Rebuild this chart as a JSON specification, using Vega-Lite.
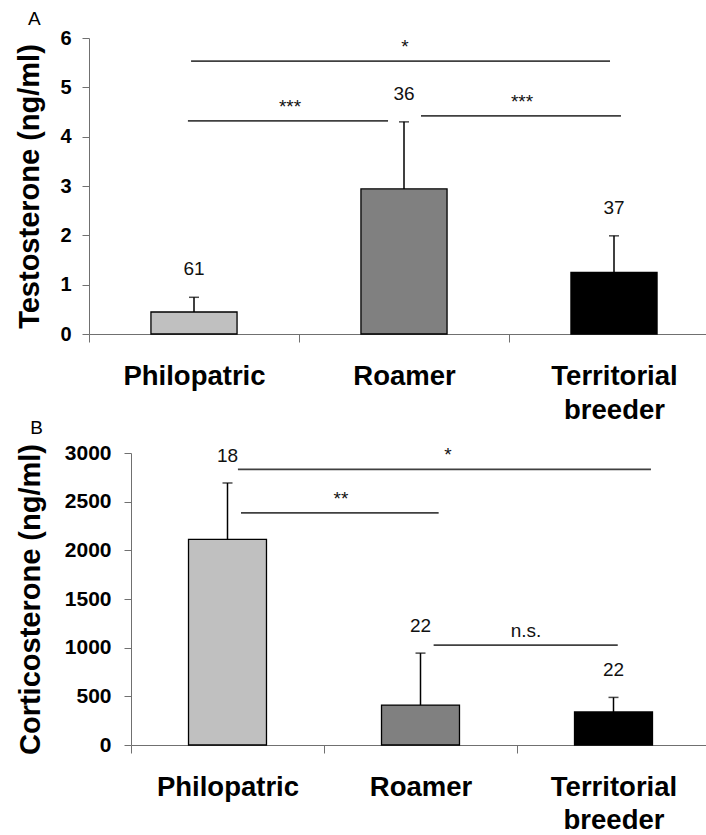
{
  "$schema": "https://vega.github.io/schema/vega-lite/v6.json",
  "background": "white",
  "padding": {"left": 15, "top": 10, "right": 0, "bottom": 0},
  "config": {
    "font": "Liberation Sans",
    "view": {"stroke": null},
    "axis": {"domainColor": "#707070", "tickColor": "#707070", "grid": false, "labelColor": "black", "titleColor": "black"}
  },
  "datasets": {
    "barsA": [
      {"group": "Philopatric", "mean": 0.446, "upper": 0.744, "n": "61"},
      {"group": "Roamer", "mean": 2.94, "upper": 4.30, "n": "36"},
      {"group": "Territorial breeder", "mean": 1.25, "upper": 1.99, "n": "37"}
    ],
    "sigsA": [
      {"id": "all", "from": "Philopatric", "to": "Territorial breeder", "level": 5.53, "label": "*"},
      {"id": "pr", "from": "Philopatric", "to": "Roamer", "level": 4.32, "label": "***"},
      {"id": "rt", "from": "Roamer", "to": "Territorial breeder", "level": 4.42, "label": "***"}
    ],
    "barsB": [
      {"group": "Philopatric", "mean": 2113, "upper": 2692, "n": "18"},
      {"group": "Roamer", "mean": 410, "upper": 944, "n": "22"},
      {"group": "Territorial breeder", "mean": 339, "upper": 489, "n": "22"}
    ],
    "sigsB": [
      {"id": "all", "from": "Philopatric", "to": "Territorial breeder", "level": 2832, "label": "*"},
      {"id": "pr", "from": "Philopatric", "to": "Roamer", "level": 2384, "label": "**"},
      {"id": "rt", "from": "Roamer", "to": "Territorial breeder", "level": 1026, "label": "n.s."}
    ]
  },
  "spacing": -5,
  "vconcat": [
    {
      "title": {"text": "A", "anchor": "start", "frame": "bounds", "fontSize": 19, "fontWeight": "normal", "dx": 12, "offset": -1, "color": "black"},
      "width": 588,
      "height": 296,
      "layer": [
        {
          "data": {"name": "barsA"},
          "mark": {"type": "bar", "width": {"band": 0.41}, "stroke": "black", "strokeWidth": 1.3},
          "encoding": {
            "x": {"field": "group", "type": "nominal", "scale": {"domain": ["Philopatric", "Roamer", "Territorial breeder"], "paddingInner": 0, "paddingOuter": 0, "range": [-42, 588]},
              "axis": {"title": null, "labelAngle": 0, "labelFontSize": 27.5, "labelFontWeight": "bold", "labelPadding": 20, "labelLineHeight": 34, "tickBand": "extent", "tickSize": 8, "labelLimit": 0,
                "labelExpr": "datum.value == 'Territorial breeder' ? ['Territorial', 'breeder'] : datum.label"}},
            "y": {"field": "mean", "type": "quantitative", "scale": {"domain": [0, 6]},
              "axis": {"title": "Testosterone (ng/ml)", "offset": 42, "values": [0, 1, 2, 3, 4, 5, 6], "labelFontSize": 20, "labelFontWeight": "bold", "labelPadding": 11, "tickSize": 7, "titleFontSize": 29, "titleFontWeight": "bold", "titlePadding": 15}},
            "color": {"field": "group", "type": "nominal", "scale": {"domain": ["Philopatric", "Roamer", "Territorial breeder"], "range": ["#c0c0c0", "#808080", "#000000"]}, "legend": null}
          }
        },
        {
          "data": {"name": "barsA"},
          "mark": {"type": "rule", "color": "black", "strokeWidth": 1.5},
          "encoding": {
            "x": {"field": "group", "type": "nominal", "scale": {"domain": ["Philopatric", "Roamer", "Territorial breeder"]}},
            "y": {"field": "mean", "type": "quantitative"},
            "y2": {"field": "upper"}
          }
        },
        {
          "data": {"name": "barsA"},
          "mark": {"type": "tick", "orient": "horizontal", "color": "black", "size": 10, "thickness": 1.5},
          "encoding": {
            "x": {"field": "group", "type": "nominal", "scale": {"domain": ["Philopatric", "Roamer", "Territorial breeder"]}},
            "y": {"field": "upper", "type": "quantitative"}
          }
        },
        {
          "data": {"name": "barsA"},
          "mark": {"type": "text", "fontSize": 19, "color": "#111", "baseline": "alphabetic", "dy": -22},
          "encoding": {
            "x": {"field": "group", "type": "nominal", "scale": {"domain": ["Philopatric", "Roamer", "Territorial breeder"]}},
            "y": {"field": "upper", "type": "quantitative"},
            "text": {"field": "n"}
          }
        },
        {
          "data": {"name": "sigsA"},
          "transform": [{"filter": "datum.id == 'all'"}],
          "mark": {"type": "rule", "color": "#404040", "strokeWidth": 1.8},
          "encoding": {
            "x": {"field": "from", "type": "nominal", "bandPosition": 0.486, "scale": {"domain": ["Philopatric", "Roamer", "Territorial breeder"]}},
            "x2": {"field": "to", "bandPosition": 0.481},
            "y": {"field": "level", "type": "quantitative"}
          }
        },
        {
          "data": {"name": "sigsA"},
          "transform": [{"filter": "datum.id == 'pr'"}],
          "mark": {"type": "rule", "color": "#404040", "strokeWidth": 1.8},
          "encoding": {
            "x": {"field": "from", "type": "nominal", "bandPosition": 0.471, "scale": {"domain": ["Philopatric", "Roamer", "Territorial breeder"]}},
            "x2": {"field": "to", "bandPosition": 0.424},
            "y": {"field": "level", "type": "quantitative"}
          }
        },
        {
          "data": {"name": "sigsA"},
          "transform": [{"filter": "datum.id == 'rt'"}],
          "mark": {"type": "rule", "color": "#404040", "strokeWidth": 1.8},
          "encoding": {
            "x": {"field": "from", "type": "nominal", "bandPosition": 0.581, "scale": {"domain": ["Philopatric", "Roamer", "Territorial breeder"]}},
            "x2": {"field": "to", "bandPosition": 0.533},
            "y": {"field": "level", "type": "quantitative"}
          }
        },
        {
          "data": {"name": "sigsA"},
          "transform": [{"filter": "datum.id == 'all'"}],
          "mark": {"type": "text", "fontSize": 19, "color": "#111", "baseline": "alphabetic", "dy": -8},
          "encoding": {
            "x": {"field": "from", "type": "nominal", "bandPosition": 1.505, "scale": {"domain": ["Philopatric", "Roamer", "Territorial breeder"]}},
            "y": {"field": "level", "type": "quantitative"},
            "text": {"field": "label"}
          }
        },
        {
          "data": {"name": "sigsA"},
          "transform": [{"filter": "datum.id == 'pr'"}],
          "mark": {"type": "text", "fontSize": 19, "color": "#111", "baseline": "alphabetic", "dy": -8},
          "encoding": {
            "x": {"field": "from", "type": "nominal", "bandPosition": 0.957, "scale": {"domain": ["Philopatric", "Roamer", "Territorial breeder"]}},
            "y": {"field": "level", "type": "quantitative"},
            "text": {"field": "label"}
          }
        },
        {
          "data": {"name": "sigsA"},
          "transform": [{"filter": "datum.id == 'rt'"}],
          "mark": {"type": "text", "fontSize": 19, "color": "#111", "baseline": "alphabetic", "dy": -8},
          "encoding": {
            "x": {"field": "from", "type": "nominal", "bandPosition": 1.062, "scale": {"domain": ["Philopatric", "Roamer", "Territorial breeder"]}},
            "y": {"field": "level", "type": "quantitative"},
            "text": {"field": "label"}
          }
        }
      ]
    },
    {
      "title": {"text": "B", "anchor": "start", "frame": "bounds", "fontSize": 19, "fontWeight": "normal", "dx": 14, "offset": 4, "color": "black"},
      "width": 579,
      "height": 292,
      "layer": [
        {
          "data": {"name": "barsB"},
          "mark": {"type": "bar", "width": {"band": 0.404}, "stroke": "black", "strokeWidth": 1.3},
          "encoding": {
            "x": {"field": "group", "type": "nominal", "scale": {"domain": ["Philopatric", "Roamer", "Territorial breeder"], "paddingInner": 0, "paddingOuter": 0},
              "axis": {"title": null, "labelAngle": 0, "labelFontSize": 27.5, "labelFontWeight": "bold", "labelPadding": 20, "labelLineHeight": 33, "tickBand": "extent", "tickSize": 8, "labelLimit": 0,
                "labelExpr": "datum.value == 'Territorial breeder' ? ['Territorial', 'breeder'] : datum.label"}},
            "y": {"field": "mean", "type": "quantitative", "scale": {"domain": [0, 3000]},
              "axis": {"title": "Corticosterone (ng/ml)", "values": [0, 500, 1000, 1500, 2000, 2500, 3000], "format": "d", "labelFontSize": 21, "labelFontWeight": "bold", "labelPadding": 13, "tickSize": 7, "titleFontSize": 29, "titleFontWeight": "bold", "titlePadding": 19}},
            "color": {"field": "group", "type": "nominal", "scale": {"domain": ["Philopatric", "Roamer", "Territorial breeder"], "range": ["#c0c0c0", "#808080", "#000000"]}, "legend": null}
          }
        },
        {
          "data": {"name": "barsB"},
          "mark": {"type": "rule", "color": "black", "strokeWidth": 1.5},
          "encoding": {
            "x": {"field": "group", "type": "nominal", "scale": {"domain": ["Philopatric", "Roamer", "Territorial breeder"]}},
            "y": {"field": "mean", "type": "quantitative"},
            "y2": {"field": "upper"}
          }
        },
        {
          "data": {"name": "barsB"},
          "mark": {"type": "tick", "orient": "horizontal", "color": "black", "size": 10, "thickness": 1.5},
          "encoding": {
            "x": {"field": "group", "type": "nominal", "scale": {"domain": ["Philopatric", "Roamer", "Territorial breeder"]}},
            "y": {"field": "upper", "type": "quantitative"}
          }
        },
        {
          "data": {"name": "barsB"},
          "mark": {"type": "text", "fontSize": 19, "color": "#111", "baseline": "alphabetic", "dy": -21},
          "encoding": {
            "x": {"field": "group", "type": "nominal", "scale": {"domain": ["Philopatric", "Roamer", "Territorial breeder"]}},
            "y": {"field": "upper", "type": "quantitative"},
            "text": {"field": "n"}
          }
        },
        {
          "data": {"name": "sigsB"},
          "transform": [{"filter": "datum.id == 'all'"}],
          "mark": {"type": "rule", "color": "#404040", "strokeWidth": 1.8},
          "encoding": {
            "x": {"field": "from", "type": "nominal", "bandPosition": 0.554, "scale": {"domain": ["Philopatric", "Roamer", "Territorial breeder"]}},
            "x2": {"field": "to", "bandPosition": 0.694},
            "y": {"field": "level", "type": "quantitative"}
          }
        },
        {
          "data": {"name": "sigsB"},
          "transform": [{"filter": "datum.id == 'pr'"}],
          "mark": {"type": "rule", "color": "#404040", "strokeWidth": 1.8},
          "encoding": {
            "x": {"field": "from", "type": "nominal", "bandPosition": 0.57, "scale": {"domain": ["Philopatric", "Roamer", "Territorial breeder"]}},
            "x2": {"field": "to", "bandPosition": 0.594},
            "y": {"field": "level", "type": "quantitative"}
          }
        },
        {
          "data": {"name": "sigsB"},
          "transform": [{"filter": "datum.id == 'rt'"}],
          "mark": {"type": "rule", "color": "#404040", "strokeWidth": 1.8},
          "encoding": {
            "x": {"field": "from", "type": "nominal", "bandPosition": 0.568, "scale": {"domain": ["Philopatric", "Roamer", "Territorial breeder"]}},
            "x2": {"field": "to", "bandPosition": 0.522},
            "y": {"field": "level", "type": "quantitative"}
          }
        },
        {
          "data": {"name": "sigsB"},
          "transform": [{"filter": "datum.id == 'all'"}],
          "mark": {"type": "text", "fontSize": 19, "color": "#111", "baseline": "alphabetic", "dy": -8},
          "encoding": {
            "x": {"field": "from", "type": "nominal", "bandPosition": 1.642, "scale": {"domain": ["Philopatric", "Roamer", "Territorial breeder"]}},
            "y": {"field": "level", "type": "quantitative"},
            "text": {"field": "label"}
          }
        },
        {
          "data": {"name": "sigsB"},
          "transform": [{"filter": "datum.id == 'pr'"}],
          "mark": {"type": "text", "fontSize": 19, "color": "#111", "baseline": "alphabetic", "dy": -8},
          "encoding": {
            "x": {"field": "from", "type": "nominal", "bandPosition": 1.088, "scale": {"domain": ["Philopatric", "Roamer", "Territorial breeder"]}},
            "y": {"field": "level", "type": "quantitative"},
            "text": {"field": "label"}
          }
        },
        {
          "data": {"name": "sigsB"},
          "transform": [{"filter": "datum.id == 'rt'"}],
          "mark": {"type": "text", "fontSize": 19, "color": "#111", "baseline": "alphabetic", "dy": -8},
          "encoding": {
            "x": {"field": "from", "type": "nominal", "bandPosition": 1.047, "scale": {"domain": ["Philopatric", "Roamer", "Territorial breeder"]}},
            "y": {"field": "level", "type": "quantitative"},
            "text": {"field": "label"}
          }
        }
      ]
    }
  ]
}
